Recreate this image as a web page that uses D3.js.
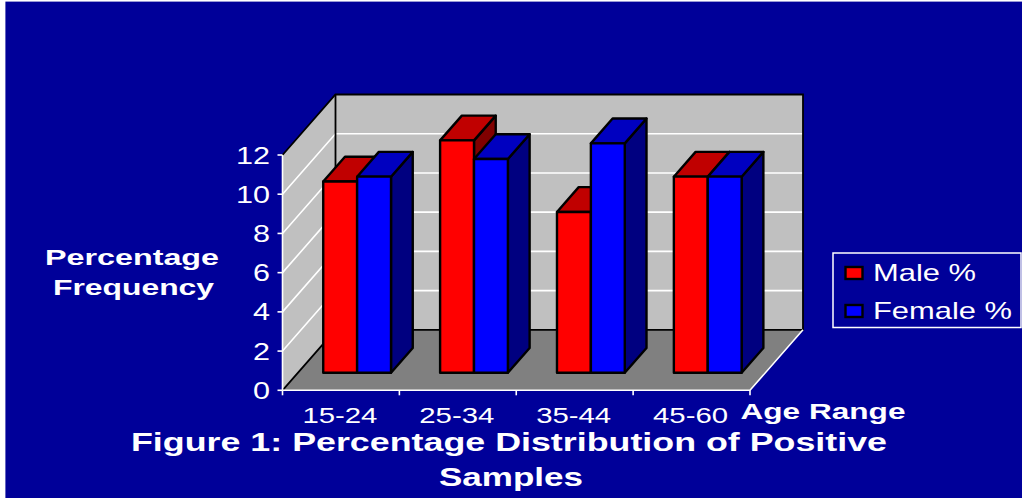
<!DOCTYPE html>
<html>
<head>
<meta charset="utf-8">
<script src="https://cdn.jsdelivr.net/npm/d3@7/dist/d3.min.js"></script>
<style>
html,body{margin:0;padding:0;background:#fff;}
svg{display:block;}
text{font-family:"Liberation Sans",Arial,sans-serif;fill:#fff;}
</style>
</head>
<body>
<svg id="chart" width="1022" height="498"></svg>
<script>
// Chart data
const ageRanges = ["15-24", "25-34", "35-44", "45-60"];
const maleValues = [9.75, 11.85, 8.2, 10];
const femaleValues = [10, 10.9, 11.7, 10];
const yTicks = [0, 2, 4, 6, 8, 10, 12];
const seriesNames = ["Male %", "Female %"];
const titleLines = ["Figure 1: Percentage Distribution of Positive", "Samples"];
const yTitleLines = ["Percentage", "Frequency"];
const xTitle = "Age Range";

const palette = {
  bg: "#000099", wall: "#c0c0c0", floor: "#808080",
  male: {front: "#ff0000", top: "#c00000", side: "#800000"},
  female: {front: "#0000ff", top: "#0000c0", side: "#000080"}
};

const svg = d3.select("#chart");

// Blue slide panel, leaving a thin white margin at the left and top
svg.append("rect").attr("x", 5.4).attr("y", 1.6).attr("width", 1022).attr("height", 498).attr("fill", palette.bg);

// Scales of the oblique box: front-plane x and y, plus a depth offset
const x = d3.scaleBand().domain(ageRanges).range([282.5, 750]);
const y = d3.scaleLinear().domain([0, 12]).range([390.3, 155]);
const depthX = d3.scaleLinear().domain([0, 1]).range([0, 53]);
const depthY = d3.scaleLinear().domain([0, 1]).range([0, -60.5]);
const pt = (px, py, d) => [px + depthX(d), py + depthY(d)];
const poly = pts => "M" + pts.map(p => p.join(",")).join("L") + "Z";
const line = pts => "M" + pts.map(p => p.join(",")).join("L");

const [x0, x1] = x.range();
const y0 = y(0), yMax = y(12);

// Floor and walls
svg.append("path").attr("fill", palette.floor)
  .attr("d", poly([pt(x0,y0,0), pt(x1,y0,0), pt(x1,y0,1), pt(x0,y0,1)]));
svg.append("path").attr("fill", palette.wall)
  .attr("d", poly([pt(x0,y0,1), pt(x1,y0,1), pt(x1,yMax,1), pt(x0,yMax,1)]));
svg.append("path").attr("fill", palette.wall)
  .attr("d", poly([pt(x0,y0,0), pt(x0,y0,1), pt(x0,yMax,1), pt(x0,yMax,0)]));

// Gridlines running along the side wall and back wall
const grid = svg.append("g").attr("fill", "none").attr("stroke", "#fff").attr("stroke-width", 1.6);
yTicks.filter(t => t > 0 && t < 12).forEach(t => {
  grid.append("path").attr("d", line([pt(x0,y(t),0), pt(x0,y(t),1), pt(x1,y(t),1)]));
});

// Box edges
const edges = svg.append("g").attr("fill", "none").attr("stroke", "#000").attr("stroke-width", 1.8);
edges.append("path").attr("d", line([pt(x0,yMax,0), pt(x0,yMax,1), pt(x1,yMax,1), pt(x1,y0,1), pt(x0,y0,1)]));
edges.append("path").attr("d", line([pt(x0,yMax,1), pt(x0,y0,1), pt(x0,y0,0)]));

// Floor front and right edges, drawn in white
svg.append("path").attr("fill", "none").attr("stroke", "#fff").attr("stroke-width", 1.6)
  .attr("d", line([pt(x0,y0,0), pt(x1,y0,0), pt(x1,y0,1)]));

// Oblique bars, drawn back to front within each group
const depthFront = 0.29, depthBack = 0.70;
const barW = x.bandwidth() * 0.29;
const barLeft = (i, s) => x(ageRanges[i]) + x.bandwidth() * 0.217 + s * barW;

function drawBar(g, i, s, value, colors) {
  const l = barLeft(i, s), r = l + barW, top = y(value), bot = y0;
  g.append("path").attr("fill", colors.side)
    .attr("d", poly([pt(r,bot,depthFront), pt(r,bot,depthBack), pt(r,top,depthBack), pt(r,top,depthFront)]));
  g.append("path").attr("fill", colors.top)
    .attr("d", poly([pt(l,top,depthFront), pt(r,top,depthFront), pt(r,top,depthBack), pt(l,top,depthBack)]));
  g.append("path").attr("fill", colors.front)
    .attr("d", poly([pt(l,bot,depthFront), pt(r,bot,depthFront), pt(r,top,depthFront), pt(l,top,depthFront)]));
}

const bars = svg.append("g").attr("stroke", "#000").attr("stroke-width", 2.4).attr("stroke-linejoin", "round");
ageRanges.forEach((a, i) => {
  drawBar(bars.append("g"), i, 0, maleValues[i], palette.male);
  drawBar(bars.append("g"), i, 1, femaleValues[i], palette.female);
});

// Axis lines and tick marks
const axisG = svg.append("g").attr("stroke", "#fff").attr("stroke-width", 1.6);
axisG.append("line").attr("x1", x0).attr("x2", x0).attr("y1", yMax).attr("y2", y0);
yTicks.forEach(t => axisG.append("line").attr("x1", x0 - 5).attr("x2", x0).attr("y1", y(t)).attr("y2", y(t)));
[...ageRanges.map(a => x(a)), x1].forEach(px => axisG.append("line").attr("x1", px).attr("x2", px).attr("y1", y0).attr("y2", y0 + 5));

// Horizontally stretched text helper
function label(px, py, str, size, width, anchor, bold) {
  return svg.append("text").attr("x", px).attr("y", py).attr("font-size", size)
    .attr("text-anchor", anchor || "middle").attr("font-weight", bold ? "bold" : "normal")
    .attr("textLength", width).attr("lengthAdjust", "spacingAndGlyphs").text(str);
}

yTicks.forEach(t => label(270, y(t) + 8.5, String(t), 23, t >= 10 ? 34 : 17, "end"));
ageRanges.forEach(a => label(x(a) + x.bandwidth() / 2 - 1, 423, a, 22, 75));

label(132, 265, yTitleLines[0], 22, 174, "middle", true);
label(133.5, 295, yTitleLines[1], 22, 161, "middle", true);
label(823, 419, xTitle, 22, 165, "middle", true);
label(509, 451, titleLines[0], 26, 756, "middle", true);
label(511, 486, titleLines[1], 26, 144, "middle", true);

// Legend
svg.append("rect").attr("x", 833).attr("y", 253).attr("width", 188).attr("height", 74.5)
  .attr("fill", "none").attr("stroke", "#fff").attr("stroke-width", 1.5);
seriesNames.forEach((n, i) => {
  const ly = 273 + i * 38;
  const c = i === 0 ? palette.male.front : palette.female.front;
  svg.append("rect").attr("x", 845.5).attr("y", ly - 6).attr("width", 17).attr("height", 12)
    .attr("fill", c).attr("stroke", "#000").attr("stroke-width", 2.4);
  label(873, ly + 8, n, 24, i === 0 ? 103 : 139, "start");
});
</script>
</body>
</html>
